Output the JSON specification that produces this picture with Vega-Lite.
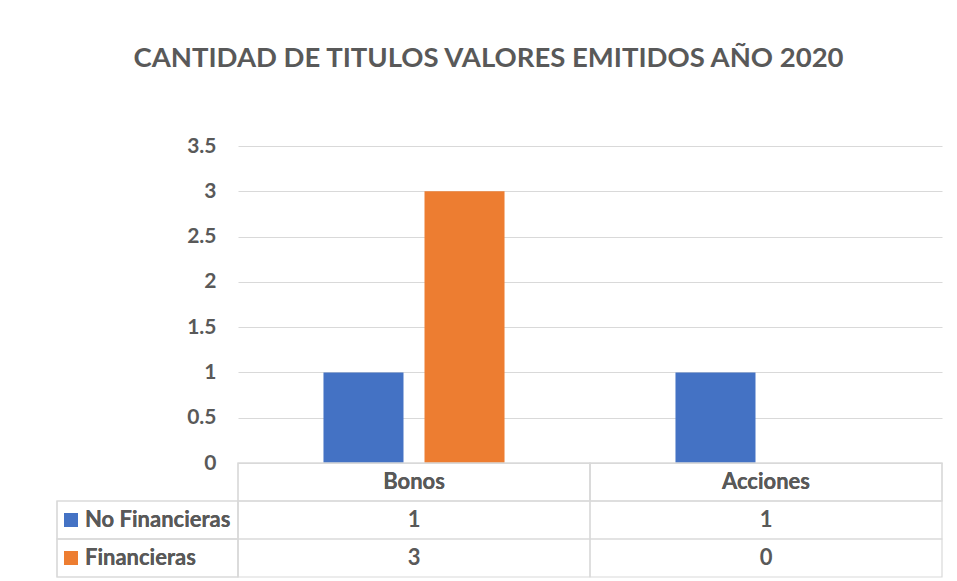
{
  "$schema": "https://vega.github.io/schema/vega-lite/v6.json",
  "padding": {"left": 56, "top": 44, "right": 16, "bottom": 5},
  "background": "white",
  "title": {
    "text": "CANTIDAD DE TITULOS VALORES EMITIDOS AÑO 2020",
    "font": "Lato",
    "fontSize": 27.5,
    "fontWeight": "bold",
    "color": "#595959",
    "anchor": "middle",
    "dx": -11,
    "offset": 63
  },
  "data": {
    "values": [
      {"categoria": "Bonos", "serie": "No Financieras", "valor": 1},
      {"categoria": "Bonos", "serie": "Financieras", "valor": 3},
      {"categoria": "Acciones", "serie": "No Financieras", "valor": 1},
      {"categoria": "Acciones", "serie": "Financieras", "valor": 0}
    ]
  },
  "columns": 2,
  "spacing": 0,
  "bounds": "flush",
  "concat": [
    {
      "width": 181,
      "height": 317,
      "data": {"values": []},
      "mark": {"type": "text"},
      "encoding": {}
    },
    {
      "width": 704,
      "height": 317,
      "mark": {"type": "bar"},
      "encoding": {
        "x": {"field": "categoria", "type": "nominal", "sort": ["Bonos", "Acciones"], "scale": {"paddingInner": 0, "paddingOuter": 0}, "axis": null},
        "xOffset": {"field": "serie", "type": "nominal", "sort": ["No Financieras", "Financieras"], "scale": {"paddingInner": 0.208, "paddingOuter": 0.846}},
        "y": {
          "field": "valor", "type": "quantitative",
          "scale": {"domain": [0, 3.5]},
          "axis": {
            "values": [0, 0.5, 1, 1.5, 2, 2.5, 3, 3.5],
            "format": "~g",
            "title": null,
            "grid": true,
            "gridColor": "#D9D9D9",
            "gridWidth": 1.2,
            "domain": false,
            "ticks": false,
            "labelPadding": 22,
            "labelFont": "Lato",
            "labelFontSize": 21,
            "labelFontWeight": "bold",
            "labelColor": "#595959"
          }
        },
        "color": {"field": "serie", "type": "nominal", "scale": {"domain": ["No Financieras", "Financieras"], "range": ["#4472C4", "#ED7D31"]}, "legend": null}
      }
    },
    {
      "width": 181,
      "height": 114,
      "encoding": {
        "y": {"field": "serie", "type": "nominal", "scale": {"domain": ["Encabezado", "No Financieras", "Financieras"], "paddingInner": 0, "paddingOuter": 0}, "axis": null}
      },
      "layer": [
        {"mark": {"type": "rect", "fill": "white", "fillOpacity": 0, "stroke": "#D9D9D9", "strokeWidth": 1.2}},
        {
          "mark": {"type": "point", "shape": "square", "filled": true, "opacity": 1, "size": 196, "xOffset": -76.5},
          "encoding": {"color": {"field": "serie", "type": "nominal", "scale": {"domain": ["No Financieras", "Financieras"], "range": ["#4472C4", "#ED7D31"]}, "legend": null}}
        },
        {
          "mark": {"type": "text", "align": "left", "dx": -62.5, "font": "Lato", "fontSize": 22, "fontWeight": "bold", "color": "#595959"},
          "encoding": {"text": {"field": "serie"}}
        }
      ]
    },
    {
      "width": 704,
      "height": 114,
      "encoding": {
        "x": {"field": "categoria", "type": "nominal", "sort": ["Bonos", "Acciones"], "scale": {"domain": ["Bonos", "Acciones"], "paddingInner": 0, "paddingOuter": 0}, "axis": null}
      },
      "layer": [
        {
          "mark": {"type": "rect", "fill": "white", "fillOpacity": 0, "stroke": "#D9D9D9", "strokeWidth": 1.2},
          "encoding": {"y": {"field": "serie", "type": "nominal", "scale": {"domain": ["Encabezado", "No Financieras", "Financieras"], "paddingInner": 0, "paddingOuter": 0}, "axis": null}}
        },
        {
          "mark": {"type": "rect", "fill": "white", "fillOpacity": 0, "stroke": "#D9D9D9", "strokeWidth": 1.2},
          "encoding": {"y": {"datum": "Encabezado", "type": "nominal"}}
        },
        {
          "mark": {"type": "text", "font": "Lato", "fontSize": 22, "fontWeight": "bold", "color": "#595959"},
          "encoding": {"y": {"field": "serie", "type": "nominal"}, "text": {"field": "valor", "type": "quantitative"}}
        },
        {
          "mark": {"type": "text", "font": "Lato", "fontSize": 22, "fontWeight": "bold", "color": "#595959"},
          "encoding": {"y": {"datum": "Encabezado", "type": "nominal"}, "text": {"field": "categoria", "type": "nominal"}}
        }
      ]
    }
  ],
  "config": {"view": {"stroke": null}}
}
